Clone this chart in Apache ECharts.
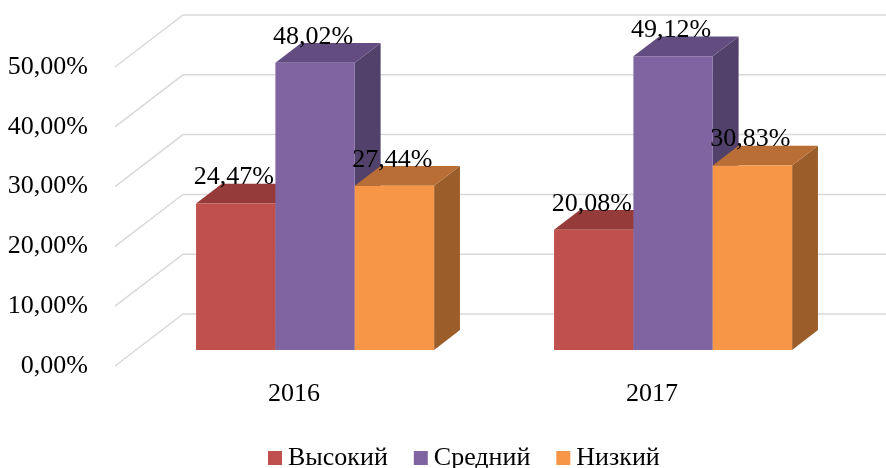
<!DOCTYPE html>
<html>
<head>
<meta charset="utf-8">
<script src="https://cdn.jsdelivr.net/npm/echarts@6/dist/echarts.min.js"></script>
<style>html,body{margin:0;padding:0;background:#fff}#c{width:886px;height:468px}</style>
</head>
<body>
<div id="c"></div>
<script>
var categories = ['2016', '2017'];
var seriesNames = ['Высокий', 'Средний', 'Низкий'];
var high = [24.47, 20.08];
var mid = [48.02, 49.12];
var low = [27.44, 30.83];
var yTicks = [0, 10, 20, 30, 40, 50];

var FONT = 'Liberation Serif';
var FS = 26;
var DEPTH = [68, -52];
var F1 = 0.31, F2 = 0.69;
var colors = [
  {front: '#C0504D', top: '#953B39', side: '#8B3432'},
  {front: '#8064A2', top: '#634D80', side: '#52416A'},
  {front: '#F79646', top: '#B96E35', side: '#9B5E2B'}
];
function fmt(v){ return v.toFixed(2).replace('.', ',') + '%'; }

function barRender(sIdx){
  return function(params, api){
    var i = api.value(0), v = api.value(1);
    var c0 = api.coord([i, 0]);
    var cv = api.coord([i, v]);
    var catW = api.size([1, 0])[0];
    var bw = catW * 0.665 / 3;
    var fx = DEPTH[0]*F1, fy = DEPTH[1]*F1;
    var dx = DEPTH[0]*(F2-F1), dy = DEPTH[1]*(F2-F1);
    var x1 = c0[0] - 1.5*bw + sIdx*bw + fx;
    var x2 = x1 + bw;
    var top = cv[1] + fy, bot = c0[1] + fy;
    var col = colors[sIdx];
    return {
      type: 'group',
      children: [
        {type: 'polygon', shape: {points: [[x2, top], [x2+dx, top+dy], [x2+dx, bot+dy], [x2, bot]]}, style: {fill: col.side}},
        {type: 'polygon', shape: {points: [[x1, top], [x2, top], [x2+dx, top+dy], [x1+dx, top+dy]]}, style: {fill: col.top}},
        {type: 'rect', shape: {x: x1, y: top, width: bw, height: bot-top}, style: {fill: col.front}},
        {type: 'text', z2: 100, style: {x: (x1+x2)/2 - 2, y: top - 26, text: fmt(v), fill: '#000', font: FS + 'px "' + FONT + '"', align: 'center', verticalAlign: 'middle'}}
      ]
    };
  };
}

function gridRender(params, api){
  var v = api.value(1);
  var cs = params.coordSys;
  var p = api.coord([0, v]);
  var x0 = cs.x, y0 = p[1];
  return {
    type: 'polyline',
    shape: {points: [[x0, y0], [x0+DEPTH[0], y0+DEPTH[1]], [886, y0+DEPTH[1]]]},
    style: {stroke: '#D9D9D9', lineWidth: 1.5, fill: null}
  };
}

var seriesData = [high, mid, low];
var series = [{
  type: 'custom', name: '_grid', z: 1, silent: true,
  renderItem: gridRender,
  data: yTicks.map(function(t){ return [0, t]; }),
  encode: {x: 0, y: 1}
}];
seriesNames.forEach(function(n, s){
  series.push({
    type: 'custom', name: n, z: 2 + s,
    itemStyle: {color: colors[s].front},
    renderItem: barRender(s),
    data: seriesData[s].map(function(v, i){ return [i, v]; }),
    encode: {x: 0, y: 1}
  });
});

var chart = echarts.init(document.getElementById('c'), null, {renderer: 'canvas'});
chart.setOption({
  animation: false,
  grid: {left: 115, right: 55, top: 67, bottom: 102, containLabel: false},
  xAxis: {
    type: 'category', data: categories,
    axisLine: {show: false}, axisTick: {show: false}, splitLine: {show: false},
    axisLabel: {fontFamily: FONT, fontSize: FS, color: '#000', margin: 15}
  },
  yAxis: {
    type: 'value', min: 0, max: 50, interval: 10,
    axisLine: {show: false}, axisTick: {show: false}, splitLine: {show: false},
    axisLabel: {fontFamily: FONT, fontSize: FS, color: '#000', margin: 27, formatter: function(v){ return fmt(v); }}
  },
  legend: {
    data: seriesNames, left: 263, top: 440, icon: 'rect', itemWidth: 14, itemHeight: 14, itemGap: 26,
    textStyle: {fontFamily: FONT, fontSize: FS, color: '#000', padding: [0,0,0,1]}
  },
  series: series
});
</script>
</body>
</html>
